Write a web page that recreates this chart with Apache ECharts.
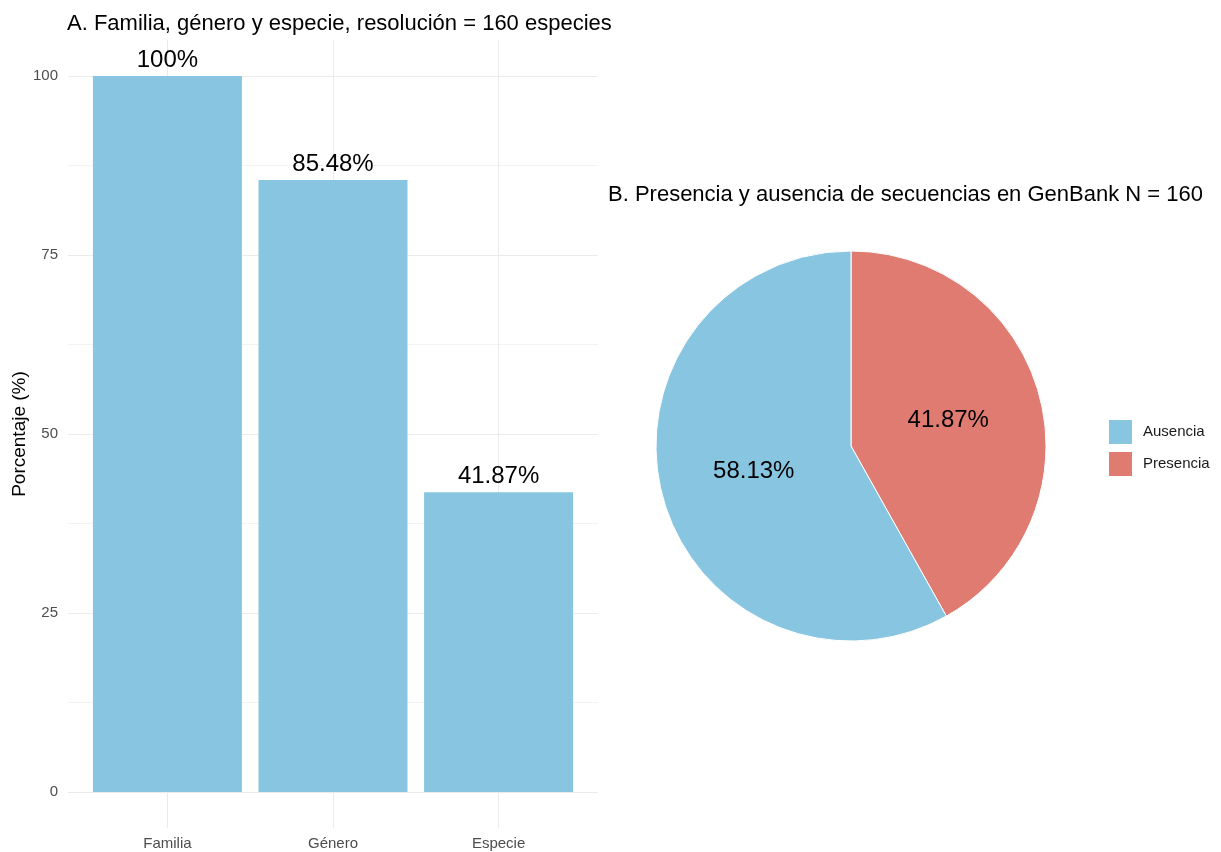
<!DOCTYPE html>
<html>
<head>
<meta charset="utf-8">
<script src="https://cdn.jsdelivr.net/npm/echarts@6/dist/echarts.min.js"></script>
<style>
html,body{margin:0;padding:0;background:#fff;}
#c{width:1221px;height:852px;}
</style>
</head>
<body>
<div id="c"></div>
<script>
var categories = ['Familia', 'Género', 'Especie'];
var barValues = [100, 85.48, 41.87];
var yTicks = [0, 25, 50, 75, 100];
var pieNames = ['Presencia', 'Ausencia'];
var pieValues = [41.87, 58.13];
var legendOrder = ['Ausencia', 'Presencia'];
var titleA = 'A. Familia, género y especie, resolución = 160 especies';
var titleB = 'B. Presencia y ausencia de secuencias en GenBank N = 160';

var FONT = 'Liberation Sans, Arial, sans-serif';
var BLUE = '#87C5E1';
var RED = '#E07B71';
var GRID = '#EBEBEB';

var chart = echarts.init(document.getElementById('c'));
chart.setOption({
  backgroundColor: '#fff',
  textStyle: {fontFamily: FONT},
  animation: false,
  title: [
    {text: titleA, left: 62, top: 8, textStyle: {fontSize: 22, fontWeight: 'normal', color: '#000', fontFamily: FONT}},
    {text: titleB, left: 603, top: 179, textStyle: {fontSize: 22, fontWeight: 'normal', color: '#000', fontFamily: FONT}}
  ],
  legend: {
    data: legendOrder,
    orient: 'vertical',
    left: 1102, top: 413,
    itemWidth: 25, itemHeight: 26, itemGap: 4,
    icon: 'rect',
    textStyle: {fontSize: 15, color: '#1a1a1a', fontFamily: FONT, padding: [0, 0, 0, 5]}
  },
  grid: [
    {left: 68, width: 530, top: 76, height: 716},
    {left: 167.4, width: 331.2, top: 40, height: 788},
    {left: 84.6, width: 496.8, top: 76, height: 716}
  ],
  xAxis: [
    {gridIndex: 0, type: 'category', data: categories, show: false},
    {gridIndex: 1, type: 'category', data: categories, boundaryGap: false,
     axisLine: {show: false}, axisTick: {show: false},
     splitLine: {show: true, lineStyle: {color: GRID, width: 1}},
     axisLabel: {color: '#4D4D4D', fontSize: 15, margin: 8, fontFamily: FONT}},
    {gridIndex: 2, type: 'category', data: categories, show: false}
  ],
  yAxis: [
    {gridIndex: 0, type: 'value', min: yTicks[0], max: yTicks[yTicks.length - 1], interval: 25,
     axisLine: {show: false}, axisTick: {show: false},
     splitLine: {show: true, lineStyle: {color: GRID, width: 1}},
     minorTick: {show: false, splitNumber: 2},
     minorSplitLine: {show: true, lineStyle: {color: '#F3F3F3', width: 1}},
     axisLabel: {color: '#4D4D4D', fontSize: 15, margin: 10, fontFamily: FONT},
     name: 'Porcentaje (%)', nameLocation: 'middle', nameRotate: 90, nameGap: 34,
     nameTextStyle: {fontSize: 19, color: '#000', fontFamily: FONT}},
    {gridIndex: 1, type: 'value', show: false, splitLine: {show: false}},
    {gridIndex: 2, type: 'value', min: 0, max: 100, show: false, splitLine: {show: false}}
  ],
  series: [
    {
      type: 'bar', xAxisIndex: 2, yAxisIndex: 2,
      data: barValues,
      barWidth: 149,
      itemStyle: {color: BLUE},
      label: {show: true, position: 'top', distance: 4, fontSize: 24, color: '#000',
              fontFamily: FONT, formatter: function (p) { return p.value + '%'; }}
    },
    {
      type: 'pie',
      center: [851, 446],
      radius: 195,
      startAngle: 90,
      clockwise: true,
      data: pieNames.map(function (n, i) {
        return {name: n, value: pieValues[i], itemStyle: {color: n === 'Presencia' ? RED : BLUE}};
      }),
      itemStyle: {borderColor: '#fff', borderWidth: 1},
      label: {show: true, position: 'inside', fontSize: 24, color: '#000', fontFamily: FONT,
              formatter: function (p) { return p.value + '%'; }},
      labelLine: {show: false}
    }
  ]
});
</script>
</body>
</html>
